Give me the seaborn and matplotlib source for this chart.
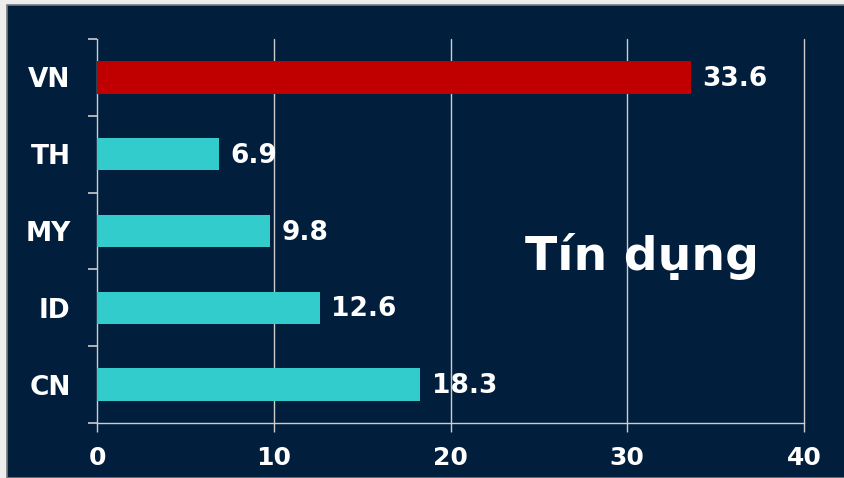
import matplotlib
matplotlib.use("Agg")
import matplotlib.pyplot as plt
from matplotlib.patches import Rectangle
import seaborn as sns
import pandas as pd

countries = ["VN", "TH", "MY", "ID", "CN"]
credit_growth = [33.6, 6.9, 9.8, 12.6, 18.3]
bar_colors = ["#C00000", "#33CCCC", "#33CCCC", "#33CCCC", "#33CCCC"]
x_ticks = [0, 10, 20, 30, 40]
panel_title = "Tín dụng"

navy = "#011E3C"
line_gray = "#CDCDCD"

sns.set_theme(style="dark")
plt.rcParams["font.family"] = ["DejaVu Sans"]
plt.rcParams["font.weight"] = "bold"

fig = plt.figure(figsize=(8.44, 4.78), dpi=100)
fig.patch.set_facecolor("#EDEDED")
# navy panel behind the chart
fig.patches.append(Rectangle((7 / 844, 0), 1, 1 - 5 / 478, transform=fig.transFigure,
                             facecolor=navy, edgecolor="#7A7A7A", linewidth=1.2, zorder=-10))

ax = fig.add_axes([97 / 844, 1 - 423 / 478, (804 - 97) / 844, (423 - 39) / 478])
ax.set_zorder(5)
ax.set_facecolor(navy)

df = pd.DataFrame({"country": countries, "value": credit_growth})
sns.barplot(data=df, x="value", y="country", hue="country", palette=bar_colors,
            order=countries, orient="h", width=0.42, legend=False, saturation=1,
            linewidth=0, ax=ax, zorder=3)

ax.set_xlim(0, 40)
ax.set_ylim(4.5, -0.5)
ax.set_xlabel("")
ax.set_ylabel("")

# vertical grid lines
for t in x_ticks[1:]:
    ax.axvline(t, color=line_gray, linewidth=1.0, zorder=1, clip_on=False)

for side in ["top", "right"]:
    ax.spines[side].set_visible(False)
for side in ["left", "bottom"]:
    ax.spines[side].set_visible(True)
    ax.spines[side].set_color(line_gray)
    ax.spines[side].set_linewidth(1.0)

ax.set_xticks(x_ticks)
ax.set_xticklabels([str(t) for t in x_ticks])
ax.tick_params(axis="x", direction="out", length=6.5, width=1.0, color=line_gray,
               colors="white", labelsize=18, pad=10, bottom=True)

ax.set_yticks(range(len(countries)))
ax.set_yticklabels(countries)
ax.set_yticks([i - 0.5 for i in range(len(countries) + 1)], minor=True)
ax.tick_params(axis="y", which="major", length=0, labelsize=19, colors="white", pad=19)
ax.tick_params(axis="y", which="minor", direction="out", length=6.5, width=1.2,
               color=line_gray, left=True)
for lab in ax.get_xticklabels() + ax.get_yticklabels():
    lab.set_fontweight("bold")
    lab.set_color("white")

for i, v in enumerate(credit_growth):
    ax.annotate(f"{v}", xy=(v, i), xytext=(8, -1.2), textcoords="offset points",
                va="center", ha="left", color="white", fontsize=19, fontweight="bold")

ax.text(24.2, 2.33, panel_title, color="white", fontsize=34, fontweight="bold",
        va="center", ha="left", zorder=4)

fig.savefig("out.png", dpi=100, facecolor=fig.get_facecolor())
